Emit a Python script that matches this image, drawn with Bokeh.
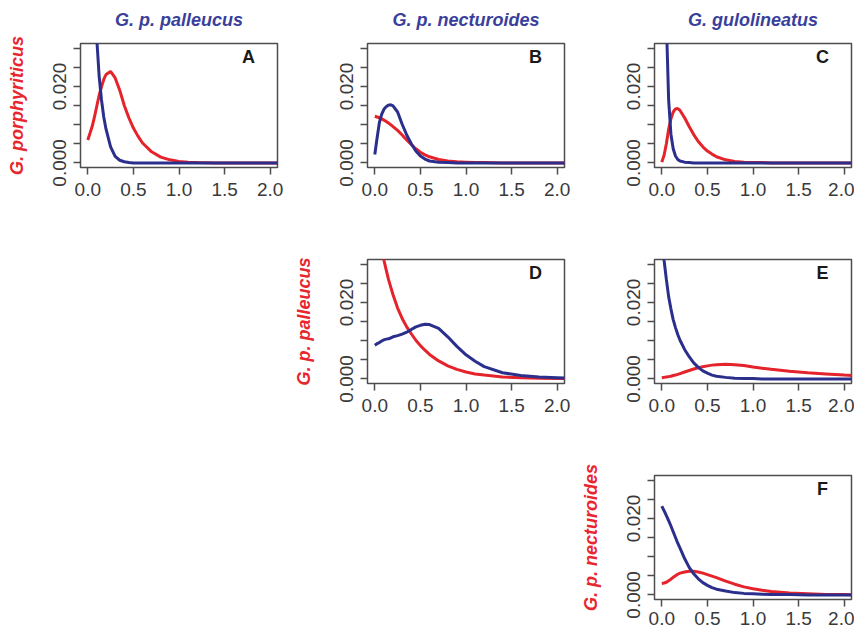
from bokeh.plotting import figure
from bokeh.models import Range1d, FixedTicker, Label, Spacer, PrintfTickFormatter, LinearAxis
from bokeh.layouts import column, row
from bokeh.embed import file_html
from bokeh.resources import INLINE

# ---------------- data ----------------
X = [0, 0.025, 0.05, 0.075, 0.1, 0.125, 0.15, 0.175, 0.2, 0.25, 0.3, 0.35, 0.4, 0.45,
     0.5, 0.55, 0.6, 0.7, 0.8, 0.9, 1.0, 1.1, 1.2, 1.4, 1.6, 1.8, 2.0, 2.1]

A_red = [0.006, 0.0078, 0.0097, 0.0122, 0.015, 0.0177, 0.0199, 0.0218, 0.0231, 0.0239, 0.0222, 0.019, 0.015, 0.0118,
         0.0091, 0.007, 0.0052, 0.0029, 0.0015, 0.0008, 0.0004, 0.0002, 0.0001, 0.0, 0.0, 0.0, 0.0, 0.0]
A_blue = [0.09, 0.07, 0.053, 0.041, 0.0318, 0.0225, 0.0165, 0.012, 0.0088, 0.0042, 0.0017, 0.0007, 0.0003, 0.0001,
          0.0, 0.0, 0.0, 0.0, 0.0, 0.0, 0.0, 0.0, 0.0, 0.0, 0.0, 0.0, 0.0, 0.0]

B_red = [0.0122, 0.012, 0.0118, 0.0115, 0.0112, 0.0108, 0.0104, 0.01, 0.0095, 0.0085, 0.0073, 0.006, 0.0048, 0.0037,
         0.0028, 0.0021, 0.0016, 0.0009, 0.0005, 0.0003, 0.0002, 0.0001, 0.0001, 0.0, 0.0, 0.0, 0.0, 0.0]
B_blue = [0.0022, 0.0065, 0.0105, 0.0127, 0.014, 0.0147, 0.0151, 0.0152, 0.0149, 0.0133, 0.0101, 0.0073, 0.005, 0.0031,
          0.0018, 0.001, 0.0005, 0.0002, 0.0001, 0.0, 0.0, 0.0, 0.0, 0.0, 0.0, 0.0, 0.0, 0.0]

C_red = [0.0002, 0.002, 0.005, 0.0088, 0.0115, 0.0133, 0.0141, 0.0142, 0.0137, 0.0118, 0.0095, 0.0074, 0.0056, 0.0042,
         0.0031, 0.0023, 0.0016, 0.0008, 0.0004, 0.0002, 0.0001, 0.0001, 0.0, 0.0, 0.0, 0.0, 0.0, 0.0]
C_blue = [0.09, 0.06, 0.037, 0.0165, 0.0075, 0.0037, 0.0018, 0.0009, 0.0005, 0.0002, 0.0001, 0.0, 0.0, 0.0,
          0.0, 0.0, 0.0, 0.0, 0.0, 0.0, 0.0, 0.0, 0.0, 0.0, 0.0, 0.0, 0.0, 0.0]

D_red = [0.043, 0.0395, 0.036, 0.0335, 0.031, 0.0285, 0.026, 0.024, 0.022, 0.0185, 0.0158, 0.0136, 0.0118, 0.0101,
         0.0087, 0.0075, 0.0064, 0.0047, 0.0034, 0.0025, 0.0018, 0.0013, 0.001, 0.0005, 0.0003, 0.0002, 0.0001, 0.0001]
D_blue = [0.0088, 0.0092, 0.0095, 0.0099, 0.0102, 0.0104, 0.0105, 0.0107, 0.011, 0.0113, 0.0117, 0.0122, 0.0129, 0.0136,
          0.014, 0.0143, 0.0142, 0.0132, 0.011, 0.0085, 0.0063, 0.0046, 0.0032, 0.0016, 0.0009, 0.0005, 0.0003, 0.0002]

E_red = [0.0003, 0.0004, 0.0005, 0.0006, 0.0007, 0.0009, 0.001, 0.0012, 0.0014, 0.0018, 0.0022, 0.0026, 0.0029, 0.0032,
         0.0034, 0.0036, 0.0037, 0.0038, 0.0037, 0.0035, 0.0031, 0.0028, 0.0025, 0.002, 0.0016, 0.0013, 0.001, 0.0009]
E_blue = [0.037, 0.031, 0.026, 0.0215, 0.0183, 0.0155, 0.0134, 0.0116, 0.0101, 0.0077, 0.0058, 0.0042, 0.003, 0.0021,
          0.0015, 0.001, 0.0007, 0.0004, 0.0002, 0.0001, 0.0001, 0.0, 0.0, 0.0, 0.0, 0.0, 0.0, 0.0]

F_red = [0.003, 0.0031, 0.0033, 0.0037, 0.0041, 0.0046, 0.005, 0.0054, 0.0057, 0.006, 0.0062, 0.0062, 0.006, 0.0057,
         0.0053, 0.0049, 0.0045, 0.0036, 0.0028, 0.0021, 0.0016, 0.0012, 0.0009, 0.0005, 0.0003, 0.0001, 0.0001, 0.0]
F_blue = [0.0232, 0.022, 0.0207, 0.0194, 0.018, 0.0165, 0.015, 0.0135, 0.0122, 0.0095, 0.0072, 0.0055, 0.0042, 0.0032,
          0.0025, 0.0019, 0.0015, 0.001, 0.0006, 0.0004, 0.0003, 0.0002, 0.0001, 0.0001, 0.0, 0.0, 0.0, 0.0]

COL_TITLES = ["G. p. palleucus", "G. p. necturoides", "G. gulolineatus"]
ROW_TITLES = ["G. porphyriticus", "G. p. palleucus", "G. p. necturoides"]
LETTERS = ["A", "B", "C", "D", "E", "F"]
X_TICKS = [0.0, 0.5, 1.0, 1.5, 2.0]
Y_TICKS = [0.0, 0.005, 0.01, 0.015, 0.02, 0.025, 0.03]
Y_SHOWN = [0.0, 0.02]

# ---------------- style ----------------
RED = "#e4232b"
BLUE = "#2b2f8c"
TITLE_BLUE = "#3a3f9c"
LABEL_RED = "#e8262e"
FRAME = "#4d4d4d"
TXT = "#3a3a3a"
FONT = "Liberation Sans"

XR = (-0.08, 2.08)
YR = (-0.0012, 0.0312)
PX_Y = (YR[1] - YR[0]) / 124.0
PX_X = (XR[1] - XR[0]) / 197.0


def make_panel(letter, red, blue, col_title=None, row_title=None,
               width=287, height=216, left=72, top=35, bottom=57, right=18, x_standoff=8):
    p = figure(width=width, height=height,
               x_range=Range1d(*XR), y_range=Range1d(*YR),
               output_backend="svg", toolbar_location=None,
               min_border_left=left, min_border_right=right,
               min_border_top=top, min_border_bottom=bottom)
    p.grid.visible = False
    p.outline_line_color = FRAME
    p.outline_line_width = 1.5
    p.background_fill_color = "white"
    p.border_fill_color = "white"
    for ax in (p.xaxis[0], p.yaxis[0]):
        ax.axis_line_color = None
        ax.major_tick_line_color = FRAME
        ax.major_tick_line_width = 1.5
        ax.major_tick_in = 0
        ax.major_tick_out = 7
        ax.minor_tick_line_color = None
        ax.major_label_text_font = FONT
        ax.major_label_text_font_size = "19px"
        ax.major_label_text_color = TXT
    p.xaxis.ticker = FixedTicker(ticks=X_TICKS)
    p.xaxis.formatter = PrintfTickFormatter(format="%.1f")
    p.xaxis.major_label_standoff = x_standoff
    p.yaxis.ticker = FixedTicker(ticks=Y_TICKS)
    p.yaxis.formatter = PrintfTickFormatter(format="%.3f")
    p.yaxis.major_label_overrides = {t: "" for t in Y_TICKS if t not in Y_SHOWN}
    p.yaxis.major_label_orientation = "vertical"
    p.yaxis.major_label_standoff = 7

    if row_title:
        p.yaxis.axis_label = row_title
        p.yaxis.axis_label_standoff = 24
        p.yaxis.axis_label_text_font = FONT
        p.yaxis.axis_label_text_font_style = "bold italic"
        p.yaxis.axis_label_text_font_size = "18px"
        p.yaxis.axis_label_text_color = LABEL_RED

    if col_title:
        tax = LinearAxis(ticker=FixedTicker(ticks=[]), axis_line_color=None,
                         major_tick_in=0, major_tick_out=0,
                         minor_tick_in=0, minor_tick_out=0, minor_tick_line_color=None,
                         major_label_text_font_size="0px",
                         axis_label=col_title, axis_label_standoff=14,
                         axis_label_text_font=FONT, axis_label_text_font_style="bold italic",
                         axis_label_text_font_size="18px", axis_label_text_color=TITLE_BLUE)
        p.add_layout(tax, "above")

    p.line(X, red, line_color=RED, line_width=3)
    p.line(X, blue, line_color=BLUE, line_width=3)

    p.add_layout(Label(x=XR[1] - 29 * PX_X, y=YR[1] - 13.5 * PX_Y, text=letter,
                       text_font=FONT, text_font_style="bold", text_font_size="18px",
                       text_color="#1a1a1a", text_align="center", text_baseline="middle"))
    return p


pA = make_panel(LETTERS[0], A_red, A_blue, col_title=COL_TITLES[0], row_title=ROW_TITLES[0],
                width=295, left=80, height=224, top=43)
pB = make_panel(LETTERS[1], B_red, B_blue, col_title=COL_TITLES[1], height=224, top=43)
pC = make_panel(LETTERS[2], C_red, C_blue, col_title=COL_TITLES[2], width=272, right=3,
                height=224, top=43)
pD = make_panel(LETTERS[3], D_red, D_blue, row_title=ROW_TITLES[1], width=299, left=84)
pE = make_panel(LETTERS[4], E_red, E_blue, width=272, right=3)
pF = make_panel(LETTERS[5], F_red, F_blue, row_title=ROW_TITLES[2], left=84,
                width=284, right=3, height=193, bottom=34, x_standoff=5)

layout = column(
    row(pA, pB, pC),
    row(Spacer(width=283, height=216), pD, pE),
    row(Spacer(width=570, height=193), pF),
)

open("out.html", "w").write(file_html(layout, INLINE))
